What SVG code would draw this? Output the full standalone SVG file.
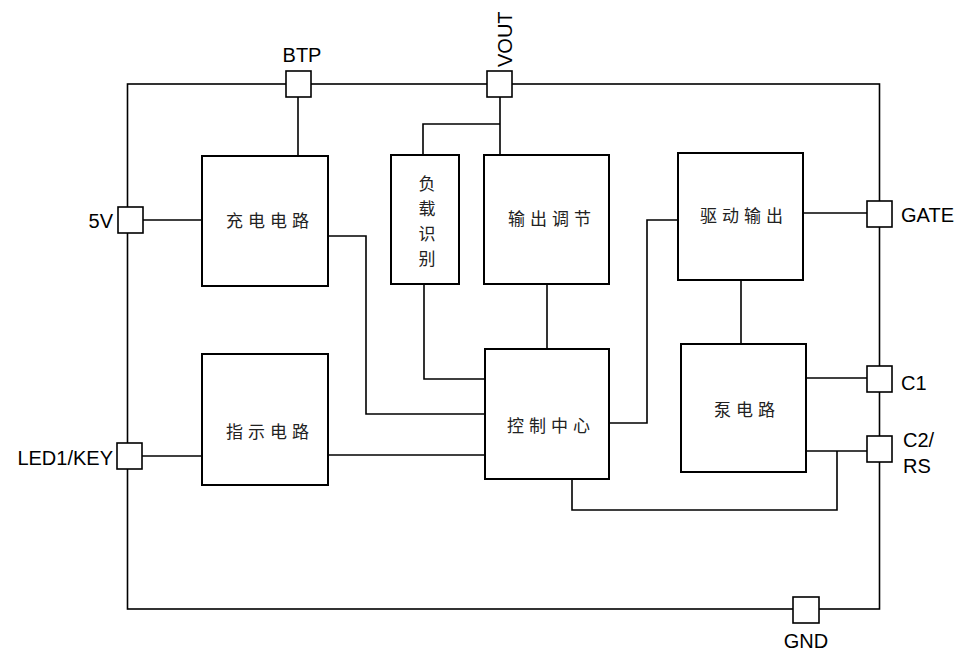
<svg xmlns="http://www.w3.org/2000/svg" width="960" height="653" viewBox="0 0 960 653">
<style>
.b{fill:#fff;stroke:#000;stroke-width:2}
.p{fill:#fff;stroke:#000;stroke-width:1.6}
.w{fill:none;stroke:#000;stroke-width:1.6}
.lab{font-family:"Liberation Sans",Arial,sans-serif;font-size:20px;fill:#000}
.cn{font-family:"Noto Sans CJK SC",sans-serif;font-size:17px;fill:#222;letter-spacing:5px;text-anchor:middle;dominant-baseline:central}
.cv{font-family:"Noto Sans CJK SC",sans-serif;font-size:17px;fill:#222;text-anchor:middle;dominant-baseline:central}
</style>
<rect width="960" height="653" fill="#fff"/>
<g id="connectors">
<rect class="w" x="127.5" y="84" width="752" height="525"/>
<path class="w" d="M298 97V156"/>
<path class="w" d="M500 97V155M500 124H423V155"/>
<path class="w" d="M143 220H202"/>
<path class="w" d="M142 456H202"/>
<path class="w" d="M328 236H366V414H485"/>
<path class="w" d="M328 455H485"/>
<path class="w" d="M424 284V379H485"/>
<path class="w" d="M547 284V349"/>
<path class="w" d="M609 423H647V220H678"/>
<path class="w" d="M803 213H867"/>
<path class="w" d="M741 280V344"/>
<path class="w" d="M806 378H867"/>
<path class="w" d="M806 451H867"/>
<path class="w" d="M572 479V510H837V451"/>
</g>
<g id="pin-btp"><rect class="p" x="286" y="71" width="25" height="26"/><text class="lab" x="302" y="62" text-anchor="middle">BTP</text></g>
<g id="pin-vout"><rect class="p" x="487" y="71" width="25" height="26"/><text class="lab" transform="translate(512,67) rotate(-90)">VOUT</text></g>
<g id="pin-5v"><rect class="p" x="118" y="207" width="25" height="26"/><text class="lab" x="113" y="228" text-anchor="end">5V</text></g>
<g id="pin-led"><rect class="p" x="117" y="443" width="25" height="26"/><text class="lab" x="113" y="465" text-anchor="end">LED1/KEY</text></g>
<g id="pin-gate"><rect class="p" x="867" y="201" width="25" height="26"/><text class="lab" x="901" y="222">GATE</text></g>
<g id="pin-c1"><rect class="p" x="867" y="366" width="25" height="26"/><text class="lab" x="901" y="390">C1</text></g>
<g id="pin-c2"><rect class="p" x="867" y="436" width="25" height="26"/><text class="lab" x="903" y="447">C2/</text><text class="lab" x="903" y="473">RS</text></g>
<g id="pin-gnd"><rect class="p" x="793" y="597" width="26" height="26"/><text class="lab" x="806" y="648" text-anchor="middle">GND</text></g>
<g id="charge"><rect class="b" x="202" y="156" width="126" height="130"/><text class="cn" x="270" y="219">充电电路</text></g>
<g id="indicator"><rect class="b" x="202" y="354" width="126" height="131"/><text class="cn" x="270" y="430">指示电路</text></g>
<g id="load"><rect class="b" x="391" y="155" width="68" height="129"/><text class="cv" x="427" y="182">负</text><text class="cv" x="427" y="207">载</text><text class="cv" x="427" y="232">识</text><text class="cv" x="427" y="257">别</text></g>
<g id="output-reg"><rect class="b" x="484" y="155" width="125" height="129"/><text class="cn" x="552" y="217">输出调节</text></g>
<g id="control"><rect class="b" x="485" y="349" width="124" height="130"/><text class="cn" x="551" y="424">控制中心</text></g>
<g id="driver"><rect class="b" x="678" y="153" width="125" height="127"/><text class="cn" x="744" y="214">驱动输出</text></g>
<g id="pump"><rect class="b" x="681" y="344" width="125" height="128"/><text class="cn" x="747" y="408">泵电路</text></g>
</svg>
